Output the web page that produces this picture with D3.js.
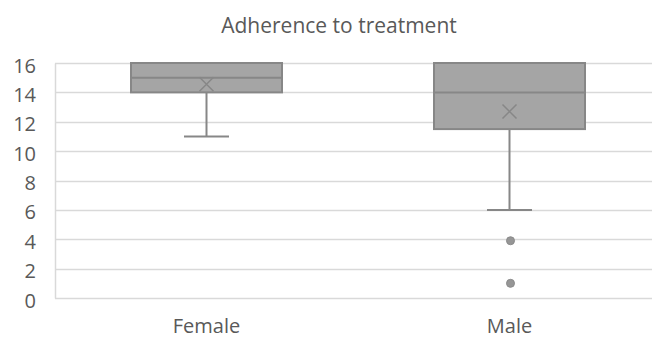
<!DOCTYPE html>
<html>
<head>
<meta charset="utf-8">
<script src="https://cdn.jsdelivr.net/npm/d3@7"></script>
<style>
  body { margin: 0; background: #fff; }
  svg text { font-family: "Open Sans", "Noto Sans", sans-serif; fill: #595959; }
</style>
</head>
<body>
<div id="chart"></div>
<script>
// box plot stats
const categories = ['Female', 'Male'];
const whiskerLow = [11, 6];
const q1 = [14, 11.5];
const median = [15, 14];
const q3 = [16, 16];
const means = [14.55, 12.7];
const outliers = [[], [3.9, 1]];
const yTicks = [0, 2, 4, 6, 8, 10, 12, 14, 16];

const width = 652;
const height = 342;
const margin = { top: 63, right: -9, bottom: 44, left: 55 };

const svg = d3.select('#chart')
  .append('svg')
  .attr('width', width)
  .attr('height', height);

const x = d3.scaleBand()
  .domain(categories)
  .range([margin.left, width - margin.right])
  .paddingInner(0)
  .paddingOuter(0);

const y = d3.scaleLinear()
  .domain([0, 16])
  .range([height - margin.bottom, margin.top]);

// title
svg.append('text')
  .attr('x', 339)
  .attr('y', 33)
  .attr('text-anchor', 'middle')
  .style('font-size', '21px')
  .text('Adherence to treatment');

// gridlines
svg.append('g')
  .selectAll('line')
  .data(yTicks)
  .join('line')
  .attr('x1', margin.left)
  .attr('x2', width - margin.right)
  .attr('y1', d => Math.round(y(d)) + 0.5)
  .attr('y2', d => Math.round(y(d)) + 0.5)
  .attr('stroke', '#d9d9d9')
  .attr('stroke-width', 1.5);

// left axis
svg.append('g')
  .attr('transform', `translate(${margin.left},0)`)
  .call(d3.axisLeft(y).tickValues(yTicks).tickSize(0).tickPadding(19))
  .call(g => g.select('.domain').attr('stroke', '#d9d9d9').attr('stroke-width', 1.5))
  .call(g => g.selectAll('text').style('font-size', '20px').attr('fill', '#595959').attr('dy', '0.45em'));

// category labels
svg.append('g')
  .attr('transform', `translate(0,${height - margin.bottom})`)
  .call(d3.axisBottom(x).tickSize(0).tickPadding(21))
  .call(g => g.select('.domain').remove())
  .call(g => g.selectAll('text').style('font-size', '20px').attr('fill', '#595959'));

const boxW = 151;
const capW = 45;
const stroke = '#878787';

const boxes = svg.append('g')
  .selectAll('g')
  .data(categories)
  .join('g')
  .attr('transform', d => `translate(${x(d) + x.bandwidth() / 2},0)`);

// whiskers
boxes.append('line')
  .attr('y1', (d, i) => y(whiskerLow[i]))
  .attr('y2', (d, i) => y(q1[i]))
  .attr('stroke', stroke).attr('stroke-width', 2);
boxes.append('line')
  .attr('x1', -capW / 2).attr('x2', capW / 2)
  .attr('y1', (d, i) => y(whiskerLow[i]))
  .attr('y2', (d, i) => y(whiskerLow[i]))
  .attr('stroke', stroke).attr('stroke-width', 2);

// box
boxes.append('rect')
  .attr('x', -boxW / 2)
  .attr('width', boxW)
  .attr('y', (d, i) => y(q3[i]))
  .attr('height', (d, i) => y(q1[i]) - y(q3[i]))
  .attr('fill', '#a5a5a5')
  .attr('stroke', stroke)
  .attr('stroke-width', 2);

// median
boxes.append('line')
  .attr('x1', -boxW / 2).attr('x2', boxW / 2)
  .attr('y1', (d, i) => y(median[i]))
  .attr('y2', (d, i) => y(median[i]))
  .attr('stroke', stroke).attr('stroke-width', 2);

// mean marker
const xs = 7;
boxes.append('path')
  .attr('d', (d, i) => {
    const m = y(means[i]);
    return `M${-xs},${m - xs}L${xs},${m + xs}M${-xs},${m + xs}L${xs},${m - xs}`;
  })
  .attr('stroke', stroke)
  .attr('stroke-width', 1.5)
  .attr('fill', 'none');

// outliers
boxes.selectAll('circle')
  .data((d, i) => outliers[i])
  .join('circle')
  .attr('cx', 1)
  .attr('cy', d => y(d))
  .attr('r', 4)
  .attr('fill', '#969696')
  .attr('stroke', '#8a8a8a')
  .attr('stroke-width', 1);
</script>
</body>
</html>
